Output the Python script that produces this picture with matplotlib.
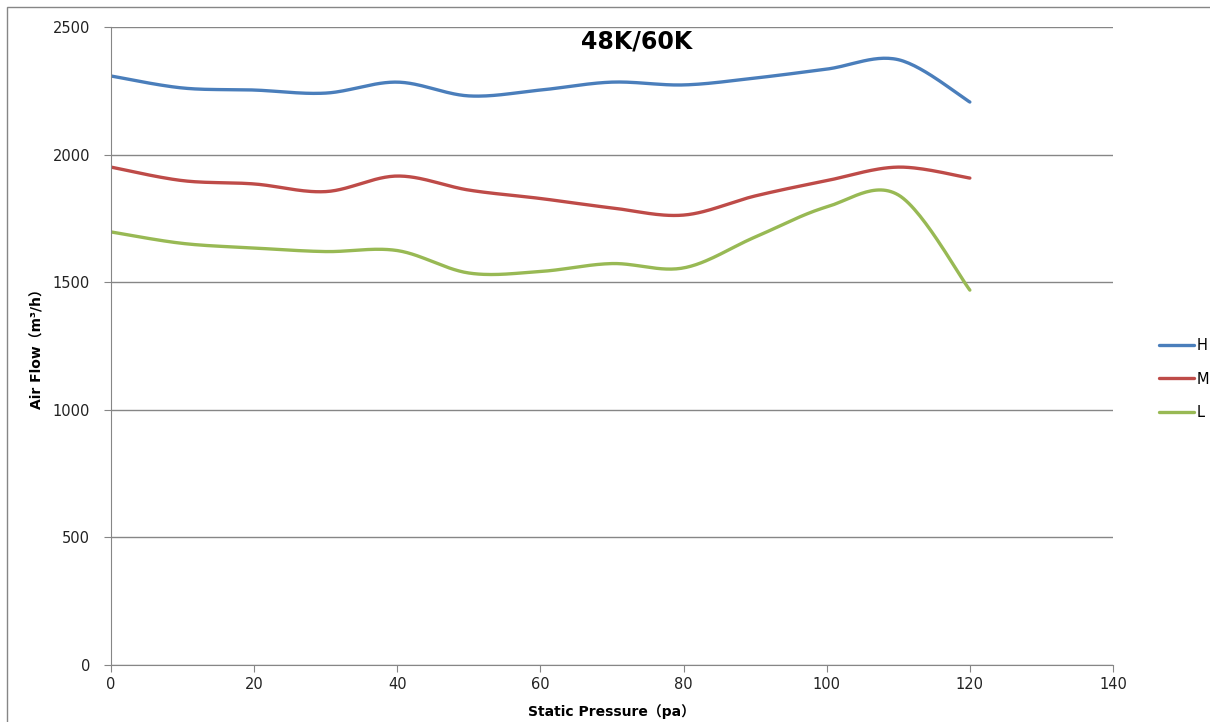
import numpy as np
import matplotlib.pyplot as plt
from matplotlib.patches import Rectangle

# static pressure (pa)
pressure = [0, 10, 20, 30, 40, 50, 60, 70, 80, 90, 100, 110, 120]
# air flow (m3/h)
flow_h = [2308, 2261, 2253, 2241, 2284, 2230, 2253, 2284, 2273, 2300, 2335, 2372, 2206]
flow_m = [1951, 1898, 1885, 1855, 1916, 1861, 1828, 1791, 1763, 1838, 1898, 1951, 1908]
flow_l = [1697, 1652, 1634, 1620, 1624, 1536, 1542, 1573, 1556, 1677, 1795, 1842, 1469]
series_names = ['H', 'M', 'L']
colors = ['#4A7EBB', '#BE4B48', '#98B954']


def smooth(x, y, n=30):
    # excel-like smoothed line (bezier through the points)
    x = np.asarray(x, float)
    y = np.asarray(y, float)
    px = np.concatenate([[x[0]], x, [x[-1]]])
    py = np.concatenate([[y[0]], y, [y[-1]]])
    xs, ys = [], []
    t = np.linspace(0, 1, n)
    for i in range(1, len(px) - 2):
        p0 = np.array([px[i], py[i]])
        p3 = np.array([px[i + 1], py[i + 1]])
        c1 = p0 + (np.array([px[i + 1], py[i + 1]]) - np.array([px[i - 1], py[i - 1]])) / 6
        c2 = p3 - (np.array([px[i + 2], py[i + 2]]) - np.array([px[i], py[i]])) / 6
        b = ((1 - t) ** 3)[:, None] * p0 + (3 * (1 - t) ** 2 * t)[:, None] * c1 \
            + (3 * (1 - t) * t ** 2)[:, None] * c2 + (t ** 3)[:, None] * p3
        xs.extend(b[:, 0])
        ys.extend(b[:, 1])
    return xs, ys


plt.rcParams['font.family'] = ['DejaVu Sans', 'Noto Sans CJK SC']

fig = plt.figure(figsize=(12.1, 7.22), dpi=100)
fig.patches.append(Rectangle((7 / 1210, -0.1), 1.2, (722 - 7) / 722 + 0.1,
                             transform=fig.transFigure, fill=False,
                             edgecolor='#868686', linewidth=1))
ax = fig.add_axes([111 / 1210, 57 / 722, 1002 / 1210, 638 / 722])

for vals, name, c in zip([flow_h, flow_m, flow_l], series_names, colors):
    sx, sy = smooth(pressure, vals)
    ax.plot(sx, sy, color=c, linewidth=2.4, label=name, solid_capstyle='round')

ax.set_xlim(0, 140)
ax.set_ylim(0, 2500)
ax.set_xticks(range(0, 141, 20))
ax.set_yticks(range(0, 2501, 500))
ax.grid(axis='y', color='#868686', linewidth=1)
ax.set_axisbelow(True)
for s in ['top', 'right']:
    ax.spines[s].set_visible(False)
for s in ['left', 'bottom']:
    ax.spines[s].set_color('#868686')
ax.tick_params(colors='#868686', labelcolor='#222222', labelsize=10.5, length=5)
ax.tick_params(axis='y', pad=10)

ax.set_ylabel('Air Flow（m³/h）', fontsize=10, fontweight='bold', labelpad=6)
ax.set_xlabel('Static Pressure（pa）', fontsize=10, fontweight='bold', labelpad=9)
ax.set_title('48K/60K', fontsize=17, fontweight='bold', x=0.525, y=0.953)

fig.legend(loc='center left', bbox_to_anchor=(1146 / 1210, 1 - 379 / 722), frameon=False,
           fontsize=10.5, handlelength=2.4, labelspacing=1.25, handletextpad=0.2)

fig.savefig('out.png', dpi=100)
